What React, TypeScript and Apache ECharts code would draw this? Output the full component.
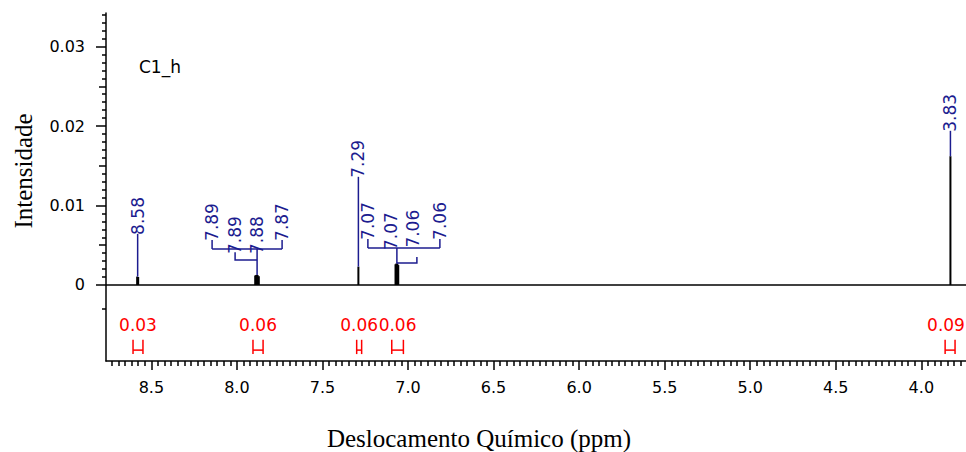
import React, { useEffect, useRef } from "react";
import * as echarts from "echarts";

// ---- data ----
const stickPpm = [8.583, 8.577, 7.893, 7.887, 7.879, 7.872, 7.29, 7.073, 7.068, 7.062, 7.057, 3.83];
const stickHeight = [0.00105, 0.001, 0.0012, 0.00126, 0.00125, 0.0011, 0.0023, 0.0026, 0.0027, 0.0027, 0.0025, 0.0162];

const peakGroupLabels = [["8.58"], ["7.89", "7.89", "7.88", "7.87"], ["7.29"], ["7.07", "7.07", "7.06", "7.06"], ["3.83"]];
const peakGroupCentre = [8.58, 7.882, 7.29, 7.065, 3.83];
const peakGroupTop = [0.00105, 0.00126, 0.0023, 0.0027, 0.0162];

const integralFrom = [8.607, 7.906, 7.3, 7.095, 3.861];
const integralTo = [8.549, 7.847, 7.271, 7.027, 3.803];
const integralValue = ["0.03", "0.06", "0.06", "0.06", "0.09"];

const xMajorTicks = [4.0, 4.5, 5.0, 5.5, 6.0, 6.5, 7.0, 7.5, 8.0, 8.5];
const yMajorTicks = [0, 0.01, 0.02, 0.03];
const yMediumTicks = [0.005, 0.015, 0.025];

// ---- layout ----
const X_MIN = 3.739;
const X_MAX = 8.765;
const Y_MIN = -0.00957;
const Y_MAX = 0.03422;
const SANS = "DejaVu Sans";
const SERIF = "Liberation Serif";
const BLUE = "#1c1c8f";
const RED = "#ff0000";
const CHART_W = 966;

const LABEL_LAYOUT: any[] = [
  { dx: [0], bottom: [0.0063] },
  { dx: [-45, -22, 0, 25], bottom: [0.00554, 0.0039, 0.0039, 0.00554], bar: 0.00453, sub: { from: -22, to: 0, y: 0.00315, up: 0.0041 } },
  { dx: [0], bottom: [0.01348] },
  { dx: [-29, -6, 16, 43], bottom: [0.00567, 0.0044, 0.0047, 0.00567], bar: 0.00466, sub: { from: 20, to: 0, y: 0.00277, up: 0.00353 } },
  { dx: [0], bottom: [0.01927] },
];
const INTEGRAL_LAYOUT = { textY: -0.00504, top: -0.0069, bottom: -0.0087, bar: -0.0082 };

function minorX(): number[] {
  const out: number[] = [];
  const step = 0.5 / 13;
  for (let k = -30; k <= 150; k++) {
    const v = 4.0 + k * step;
    if (v < X_MIN || v > X_MAX) continue;
    if (k % 13 === 0) continue;
    out.push(v);
  }
  return out;
}
function minorY(): number[] {
  const out: number[] = [-0.003];
  for (let k = 1; k <= 34; k++) {
    if (k % 5 === 0) continue;
    out.push(k / 1000);
  }
  return out;
}

export default function App() {
  const ref = useRef<HTMLDivElement>(null);
  useEffect(() => {
    if (!ref.current) return;
    const chart = echarts.init(ref.current, null, { renderer: "svg" });
    const tickStyle = { color: "#000", width: 1.5 };
    const xBase = {
      type: "value",
      inverse: true,
      min: X_MIN,
      max: X_MAX,
      position: "bottom",
      splitLine: { show: false },
    };
    const yBase = {
      type: "value",
      min: Y_MIN,
      max: Y_MAX,
      position: "left",
      splitLine: { show: false },
    };
    const option: any = {
      animation: false,
      grid: { left: 106, top: 13, right: 0, bottom: 91, containLabel: false },
      xAxis: [
        {
          ...xBase,
          axisLine: { show: true, onZero: false, lineStyle: tickStyle },
          axisTick: { show: true, length: 9, lineStyle: tickStyle, customValues: xMajorTicks },
          axisLabel: {
            customValues: xMajorTicks,
            formatter: (v: number) => v.toFixed(1),
            color: "#000",
            fontFamily: SANS,
            fontSize: 16,
            margin: 18,
          },
        },
        {
          ...xBase,
          axisLine: { show: false, onZero: false },
          axisTick: { show: true, length: 5, lineStyle: tickStyle, customValues: minorX() },
          axisLabel: { show: false },
        },
      ],
      yAxis: [
        {
          ...yBase,
          axisLine: { show: true, onZero: false, lineStyle: tickStyle },
          axisTick: { show: true, length: 10, lineStyle: tickStyle, customValues: yMajorTicks },
          axisLabel: {
            customValues: yMajorTicks,
            formatter: (v: number) => (v === 0 ? "0" : v.toFixed(2)),
            color: "#000",
            fontFamily: SANS,
            fontSize: 16,
            margin: 21,
          },
        },
        {
          ...yBase,
          axisLine: { show: false, onZero: false },
          axisTick: { show: true, length: 7, lineStyle: tickStyle, customValues: yMediumTicks },
          axisLabel: { show: false },
        },
        {
          ...yBase,
          axisLine: { show: false, onZero: false },
          axisTick: { show: true, length: 4, lineStyle: tickStyle, customValues: minorY() },
          axisLabel: { show: false },
        },
      ],
      graphic: [
        {
          type: "text",
          x: 139,
          y: 67,
          style: { text: "C1_h", fill: "#000", font: `17px '${SANS}'`, align: "left", verticalAlign: "middle" },
        },
        {
          type: "text",
          x: 23,
          y: 171,
          rotation: Math.PI / 2,
          style: { text: "Intensidade", fill: "#000", font: `25px '${SERIF}'`, align: "center", verticalAlign: "middle" },
        },
        {
          type: "text",
          x: 479,
          y: 438,
          style: { text: "Deslocamento Químico (ppm)", fill: "#000", font: `25px '${SERIF}'`, align: "center", verticalAlign: "middle" },
        },
      ],
      series: [
        {
          type: "custom",
          name: "spectrum",
          xAxisIndex: 0,
          yAxisIndex: 0,
          data: stickPpm.map((p, i) => [p, stickHeight[i]]),
          renderItem: (params: any, api: any) => {
            const p0 = api.coord([api.value(0), 0]);
            const p1 = api.coord([api.value(0), api.value(1)]);
            return {
              type: "line",
              shape: { x1: p0[0], y1: p0[1], x2: p1[0], y2: p1[1] },
              style: { stroke: "#000", lineWidth: 2 },
            };
          },
          markLine: {
            silent: true,
            symbol: "none",
            label: { show: false },
            lineStyle: { color: "#000", width: 1.5, type: "solid" },
            data: [{ yAxis: 0 }],
          },
          z: 2,
        },
        {
          type: "custom",
          name: "peakLabels",
          xAxisIndex: 0,
          yAxisIndex: 0,
          clip: false,
          data: peakGroupCentre.map((c, i) => [c, peakGroupTop[i]]),
          renderItem: (params: any, api: any) => {
            const gi = params.dataIndex;
            const lay = LABEL_LAYOUT[gi];
            const labels = peakGroupLabels[gi];
            const centre = api.value(0);
            const top = api.value(1);
            const cx = api.coord([centre, 0])[0];
            const Y = (v: number) => api.coord([centre, v])[1];
            const line = (x1: number, y1: number, x2: number, y2: number) => ({
              type: "line",
              shape: { x1, y1, x2, y2 },
              style: { stroke: BLUE, lineWidth: 1.5 },
            });
            const children: any[] = [];
            labels.forEach((t: string, k: number) => {
              children.push({
                type: "text",
                x: cx + lay.dx[k],
                y: Y(lay.bottom[k]),
                rotation: Math.PI / 2,
                style: { text: t, fill: BLUE, font: `17px '${SANS}'`, align: "left", verticalAlign: "middle" },
              });
            });
            if (labels.length === 1) {
              children.push(line(cx, Y(lay.bottom[0]) - 1, cx, Y(top)));
            } else {
              const last = labels.length - 1;
              const yb = Y(lay.bar);
              children.push(line(cx + lay.dx[0], Y(lay.bottom[0]) - 1, cx + lay.dx[0], yb));
              children.push(line(cx + lay.dx[last], Y(lay.bottom[last]) - 1, cx + lay.dx[last], yb));
              children.push(line(cx + lay.dx[0], yb, cx + lay.dx[last], yb));
              const s = lay.sub;
              children.push({
                type: "polyline",
                shape: {
                  points: [
                    [cx + s.from, Y(s.up)],
                    [cx + s.from, Y(s.y)],
                    [cx + s.to, Y(s.y)],
                  ],
                },
                style: { stroke: BLUE, lineWidth: 1.5, fill: "none" },
              });
              children.push(line(cx, yb, cx, Y(top)));
            }
            return { type: "group", children };
          },
          z: 3,
        },
        {
          type: "custom",
          name: "integrals",
          xAxisIndex: 0,
          yAxisIndex: 0,
          clip: false,
          data: integralFrom.map((f, i) => [f, integralTo[i]]),
          renderItem: (params: any, api: any) => {
            const i = params.dataIndex;
            const x1 = api.coord([api.value(0), 0])[0];
            const x2 = api.coord([api.value(1), 0])[0];
            const Y = (v: number) => api.coord([api.value(0), v])[1];
            const L = INTEGRAL_LAYOUT;
            const st = { stroke: RED, lineWidth: 1.5 };
            const halfW = 19;
            const tx = Math.min((x1 + x2) / 2, CHART_W - halfW - 1);
            return {
              type: "group",
              children: [
                {
                  type: "text",
                  x: tx,
                  y: Y(L.textY),
                  style: { text: integralValue[i], fill: RED, font: `17px '${SANS}'`, align: "center", verticalAlign: "middle" },
                },
                { type: "line", shape: { x1, y1: Y(L.top), x2: x1, y2: Y(L.bottom) }, style: st },
                { type: "line", shape: { x1: x2, y1: Y(L.top), x2, y2: Y(L.bottom) }, style: st },
                { type: "line", shape: { x1, y1: Y(L.bar), x2, y2: Y(L.bar) }, style: st },
              ],
            };
          },
          z: 3,
        },
      ],
    };
    chart.setOption(option);
    return () => chart.dispose();
  }, []);
  return (
    <div
      ref={ref}
      style={{ position: "fixed", left: 0, top: 0, width: 966, height: 452, background: "#fff" }}
    />
  );
}
